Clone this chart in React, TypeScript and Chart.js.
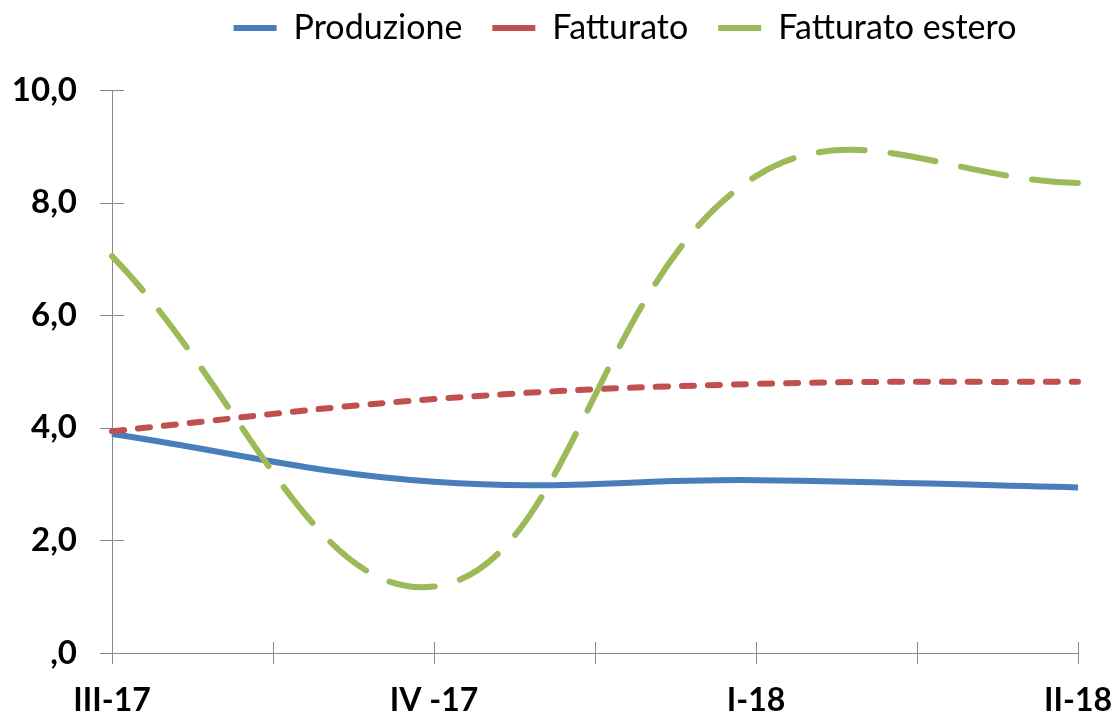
import React, { useEffect, useRef } from 'react';
import { Chart, registerables } from 'chart.js';

Chart.register(...registerables);

// ---- data ----
const categories = ['III-17', 'IV -17', 'I-18', 'II-18'];
const seriesNames = ['Produzione', 'Fatturato', 'Fatturato estero'];
const produzione = [3.89, 3.04, 3.07, 2.94];
const fatturato = [3.94, 4.51, 4.78, 4.82];
const fatturatoEstero = [7.05, 1.18, 8.47, 8.35];
const yTickLabels = [',0', '2,0', '4,0', '6,0', '8,0', '10,0'];

const AXIS_GRAY = '#8a8a8a';
const LEGEND_DX = 86;
const LEGEND_DY = -35;

const crossTicks = {
  id: 'crossTicks',
  beforeDatasetsDraw(chart: any) {
    const { ctx, chartArea, scales } = chart;
    const xs = scales.x;
    const ys = scales.y;
    ctx.save();
    ctx.strokeStyle = AXIS_GRAY;
    ctx.lineWidth = 1;
    ctx.beginPath();
    ys.ticks.forEach((t: any) => {
      const py = Math.round(ys.getPixelForValue(t.value)) + 0.5;
      ctx.moveTo(chartArea.left - 12, py);
      ctx.lineTo(chartArea.left + 12, py);
    });
    const n = categories.length;
    for (let i = 0; i <= 2 * (n - 1); i++) {
      const px = Math.round(xs.getPixelForValue(i / 2)) + 0.5;
      ctx.moveTo(px, chartArea.bottom - 11);
      ctx.lineTo(px, chartArea.bottom + 11);
    }
    ctx.stroke();
    ctx.restore();
  },
};

const legendShift = {
  id: 'legendShift',
  afterLayout(chart: any) {
    const l = chart.legend;
    if (!l) return;
    l.left += LEGEND_DX;
    l.right += LEGEND_DX;
    l.top += LEGEND_DY;
    l.bottom += LEGEND_DY;
  },
};

export default function App() {
  const ref = useRef<HTMLCanvasElement | null>(null);

  useEffect(() => {
    if (!ref.current) return;
    Chart.defaults.font.family = 'Lato';
    const chart = new Chart(ref.current, {
      type: 'line',
      data: {
        labels: categories,
        datasets: [
          {
            label: seriesNames[0],
            data: produzione,
            borderColor: '#4a7ebb',
            backgroundColor: '#4a7ebb',
            borderWidth: 6,
            tension: 0.4,
            pointRadius: 0,
            order: 2,
          },
          {
            label: seriesNames[1],
            data: fatturato,
            borderColor: '#c0504d',
            backgroundColor: '#c0504d',
            borderWidth: 6,
            borderDash: [12, 14],
            borderCapStyle: 'round',
            tension: 0.4,
            pointRadius: 0,
            order: 1,
          },
          {
            label: seriesNames[2],
            data: fatturatoEstero,
            borderColor: '#9bbb59',
            backgroundColor: '#9bbb59',
            borderWidth: 6,
            borderDash: [46, 26],
            borderCapStyle: 'round',
            tension: 0.4,
            pointRadius: 0,
            order: 0,
          },
        ],
      },
      options: {
        responsive: true,
        maintainAspectRatio: false,
        animation: false,
        layout: { padding: { left: 0, right: 36, top: 16, bottom: 0 } },
        plugins: {
          tooltip: { enabled: false },
          legend: {
            position: 'top',
            labels: {
              usePointStyle: true,
              pointStyle: 'line',
              pointStyleWidth: 43,
              padding: 30,
              color: '#000',
              font: { family: 'Lato', size: 34, weight: 'normal' },
              sort: (a: any, b: any) => a.datasetIndex - b.datasetIndex,
            },
          },
        },
        scales: {
          x: {
            type: 'category',
            offset: false,
            grid: { display: false, drawTicks: false },
            border: { display: true, color: AXIS_GRAY, width: 1 },
            ticks: {
              color: '#000',
              font: { family: 'Lato', size: 32, weight: 'bold', lineHeight: 3 },
              padding: 0,
              maxRotation: 0,
              autoSkip: false,
            },
            afterFit: (s: any) => {
              s.height = 62;
            },
          },
          y: {
            min: 0,
            max: 10,
            grid: { display: false, drawTicks: false },
            border: { display: true, color: AXIS_GRAY, width: 1 },
            ticks: {
              stepSize: 2,
              color: '#000',
              font: { family: 'Lato', size: 33, weight: 'bold' },
              padding: 35,
              callback: (_v: any, i: number) => yTickLabels[i],
            },
            afterFit: (s: any) => {
              s.width = 112;
            },
          },
        },
      },
      plugins: [crossTicks, legendShift],
    });
    return () => chart.destroy();
  }, []);

  return (
    <div
      style={{
        position: 'fixed',
        left: 0,
        top: 0,
        width: 1114,
        height: 715,
        background: '#fff',
      }}
    >
      <canvas ref={ref} style={{ display: 'block' }} />
    </div>
  );
}
